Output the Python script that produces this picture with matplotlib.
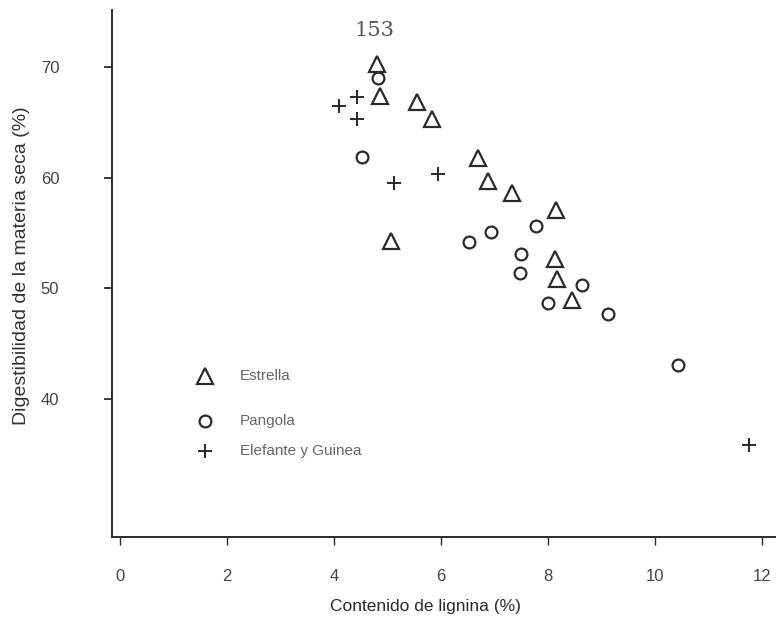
import matplotlib
matplotlib.use("Agg")
import matplotlib.pyplot as plt

# Estrella (triangles)
estrella_x = [4.80, 4.87, 5.55, 5.83, 6.69, 6.89, 7.33, 8.15, 5.07, 8.14, 8.17, 8.45]
estrella_y = [70.3, 67.4, 66.8, 65.3, 61.8, 59.7, 58.6, 57.1, 54.3, 52.6, 50.8, 48.9]

# Pangola (circles)
pangola_x = [4.83, 4.52, 6.53, 6.93, 7.79, 7.50, 7.48, 8.64, 8.01, 9.13, 10.44]
pangola_y = [69.0, 61.9, 54.2, 55.1, 55.6, 53.1, 51.4, 50.3, 48.7, 47.7, 43.1]

# Elefante y Guinea (plus)
elefante_x = [4.44, 4.10, 4.43, 5.94, 5.13, 11.77]
elefante_y = [67.3, 66.5, 65.3, 60.3, 59.5, 35.8]

xticks = [0, 2, 4, 6, 8, 10, 12]
yticks = [40, 50, 60, 70]

ink = "#2a2a2a"
plt.rcParams["font.family"] = ["Liberation Sans", "DejaVu Sans"]

fig = plt.figure(figsize=(7.76, 6.25), dpi=100)
ax = fig.add_axes([0.1443, 0.1408, 0.8557, 0.8438])

ax.plot(estrella_x, estrella_y, ls="none", marker="^", ms=11, mfc="none",
        mec=ink, mew=1.6)
ax.plot(pangola_x, pangola_y, ls="none", marker="o", ms=8.5, mfc="none",
        mec=ink, mew=1.6)
ax.plot(elefante_x, elefante_y, ls="none", marker="+", ms=10, mec=ink, mew=1.4)

ax.set_xlim(-0.15, 12.27)
ax.set_ylim(27.5, 75.2)
ax.set_xticks(xticks)
ax.set_yticks(yticks)
for s in ["top", "right"]:
    ax.spines[s].set_visible(False)
for s in ["left", "bottom"]:
    ax.spines[s].set_color(ink)
    ax.spines[s].set_linewidth(1.4)
ax.tick_params(axis="y", length=6, width=1.3, color=ink, pad=32,
               labelsize=12, labelcolor="#444444")
ax.tick_params(axis="x", length=6, width=1.0, color=ink, pad=17,
               labelsize=12, labelcolor="#444444")

# legend drawn by hand, like the printed figure
leg = [("^", 11, "Estrella", 0.305),
       ("o", 8.5, "Pangola", 0.220),
       ("+", 10, "Elefante y Guinea", 0.163)]
for m, size, name, yy in leg:
    if m == "+":
        ax.plot([0.1395], [yy], transform=ax.transAxes, ls="none", marker=m,
                ms=size, mec=ink, mew=1.4, clip_on=False)
    else:
        ax.plot([0.1395], [yy], transform=ax.transAxes, ls="none", marker=m,
                ms=size, mfc="none", mec=ink, mew=1.6, clip_on=False)
    ax.text(0.193, yy, name, transform=ax.transAxes, va="center", ha="left",
            fontsize=11, color="#666666")

fig.text(0.548, 0.03, "Contenido de lignina (%)", ha="center", va="center",
         fontsize=12.5, color="#2a2a2a")
fig.text(0.028, 0.575, "Digestibilidad de la materia seca (%)", ha="center",
         va="center", rotation=90, fontsize=14, color="#333333")
fig.text(0.483, 0.952, "153", ha="center", va="center", fontsize=15,
         family="DejaVu Serif", color="#555555")

fig.savefig("out.png", dpi=100)
